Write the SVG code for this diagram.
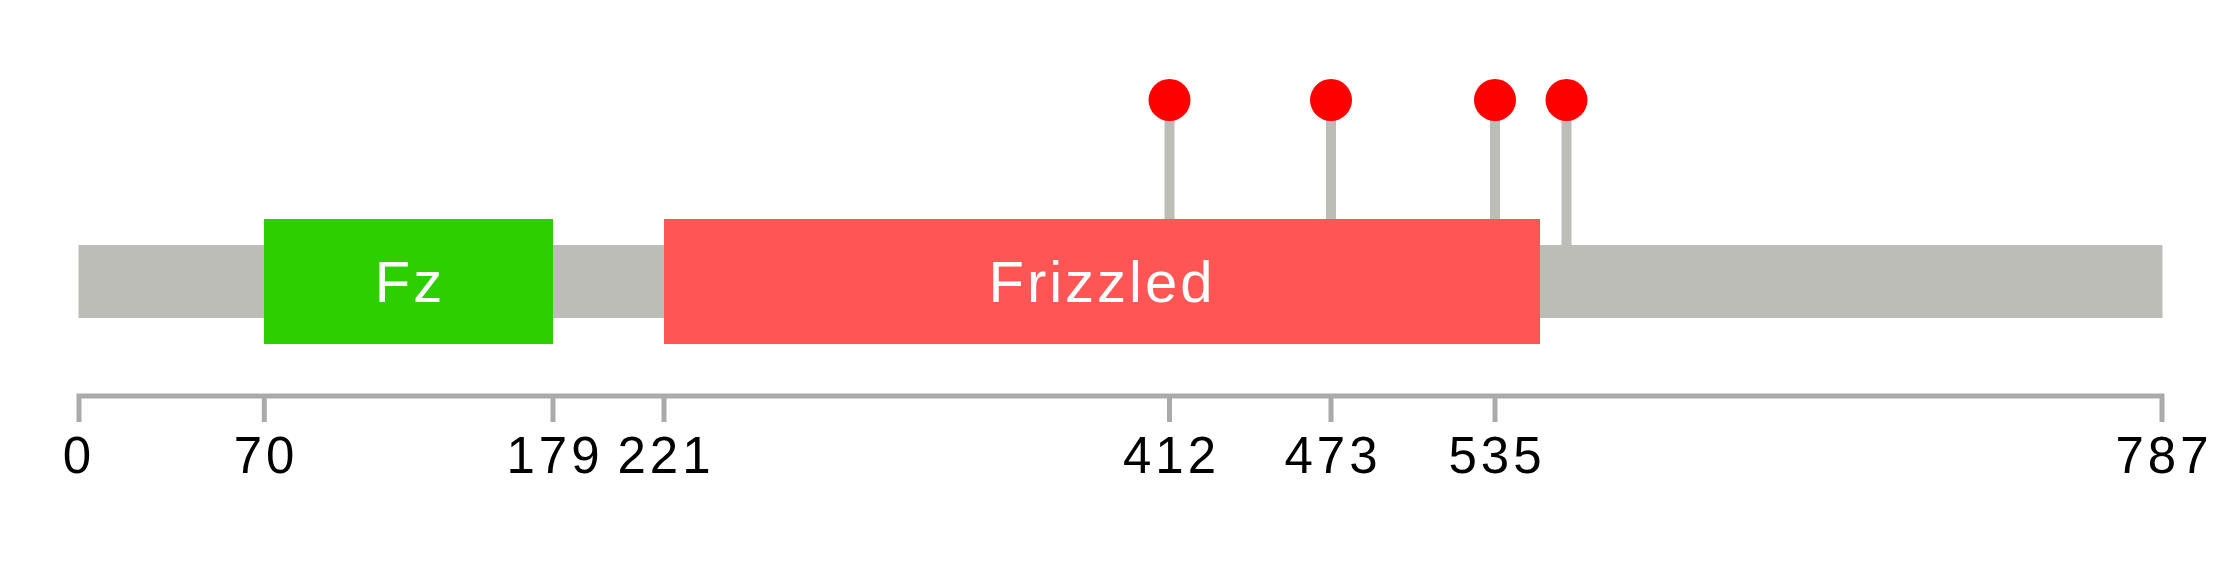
<svg xmlns="http://www.w3.org/2000/svg" width="2239" height="578" viewBox="0 0 2239 578">
<style>
.stem{stroke:#BBBDB6;stroke-width:10;fill:none}
.dot{fill:#FF0000}
.axis{stroke:#AAAAAA;stroke-width:5;fill:none}
.lbl{font-family:"Liberation Sans",Arial,sans-serif;font-size:51px;fill:#000;text-anchor:middle;letter-spacing:4px}
.dlbl{font-family:"Liberation Sans",Arial,sans-serif;font-size:58px;fill:#FFFFFF;text-anchor:middle;letter-spacing:3px}
</style>
<rect width="2239" height="578" fill="#FFFFFF"/>
<g id="connectors">
<line class="stem" x1="1169.5" y1="100" x2="1169.5" y2="245"/>
<line class="stem" x1="1331" y1="100" x2="1331" y2="245"/>
<line class="stem" x1="1495" y1="100" x2="1495" y2="245"/>
<line class="stem" x1="1566.5" y1="100" x2="1566.5" y2="245"/>
</g>
<g id="backbone"><rect x="78.5" y="245" width="2084" height="73" fill="#BBBDB6"/></g>
<g id="domain-fz"><rect x="264" y="219" width="289" height="125" fill="#2ECF00"/><text class="dlbl" x="410" y="302">Fz</text></g>
<g id="domain-frizzled"><rect x="664" y="219" width="876" height="125" fill="#FF5555"/><text class="dlbl" x="1102" y="302">Frizzled</text></g>
<g id="sites">
<circle class="dot" cx="1169.5" cy="100" r="21"/>
<circle class="dot" cx="1331" cy="100" r="21"/>
<circle class="dot" cx="1495" cy="100" r="21"/>
<circle class="dot" cx="1566.5" cy="100" r="21"/>
</g>
<g id="axis">
<path class="axis" d="M79 422V396H2162V422"/>
<path class="axis" d="M264.3 396V422M553 396V422M664 396V422M1169.5 396V422M1331 396V422M1495 396V422"/>
<text class="lbl" x="79" y="473">0</text>
<text class="lbl" x="266" y="473">70</text>
<text class="lbl" x="555" y="473">179</text>
<text class="lbl" x="666" y="473">221</text>
<text class="lbl" x="1171.5" y="473">412</text>
<text class="lbl" x="1333" y="473">473</text>
<text class="lbl" x="1497" y="473">535</text>
<text class="lbl" x="2164" y="473">787</text>
</g>
</svg>
